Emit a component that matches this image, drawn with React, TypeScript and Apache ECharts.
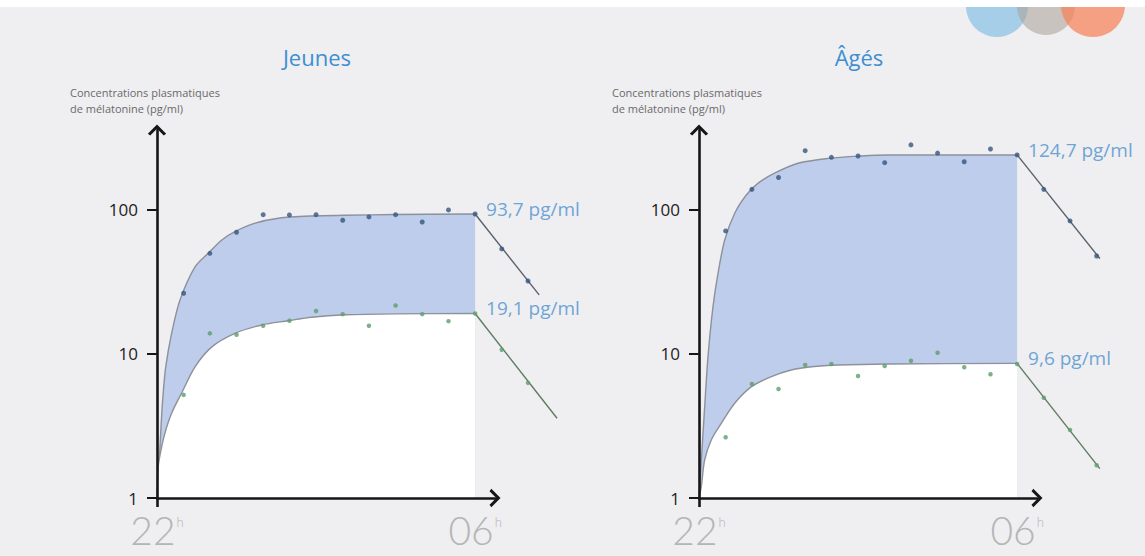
import React, { useEffect, useRef } from 'react';
import * as echarts from 'echarts';

// ---------- texts ----------
const panelTitles = ['Jeunes', 'Âgés'];
const yAxisNameLines = ['Concentrations plasmatiques', 'de mélatonine (pg/ml)'];
const xTickValues = [0, 8];
const xTickLabels = ['22', '06'];
const xTickSuffix = 'h';
const yTickValues = [1, 10, 100];
const jeunesLabels = ['93,7 pg/ml', '19,1 pg/ml'];
const agesLabels = ['124,7 pg/ml', '9,6 pg/ml'];

// ---------- data (hours after 22h, pg/ml) ----------
const pointHours = [0.67, 1.33, 2, 2.67, 3.33, 4, 4.67, 5.33, 6, 6.67, 7.33, 8, 8.67, 9.33, 10];

const jeunesHighPoints = [26.4, 50, 70, 92.7, 92.3, 92.7, 84.8, 89.4, 92.7, 82.5, 100, 93.7, 53.6, 32.1];
const jeunesLowPoints = [5.2, 13.9, 13.6, 15.7, 17.0, 19.9, 18.9, 15.7, 21.7, 18.9, 16.9, 19.1, 10.7, 6.3];
const agesHighPoints = [71.5, 139, 168, 258, 232, 237, 213, 283, 248, 216, 265, 241, 139, 83.9, 47.9];
const agesLowPoints = [2.64, 6.19, 5.71, 8.39, 8.52, 7.03, 8.25, 8.98, 10.2, 8.08, 7.23, 8.52, 4.97, 2.97, 1.69];

const jeunesHighFitHours = [0, 0.05, 0.093, 0.143, 0.219, 0.37, 0.579, 0.96, 1.29, 1.63, 1.96, 2.47, 3.05, 3.89, 4.73, 6, 8];
const jeunesHighFit = [1, 1.67, 2.83, 4.8, 8.1, 14, 23.7, 40.4, 50.1, 61.9, 70.7, 80.9, 87.6, 90.8, 91.8, 93, 93.7];
const jeunesLowFitHours = [0, 0.03, 0.1, 0.2, 0.37, 0.62, 0.96, 1.38, 1.96, 2.63, 3.3, 3.89, 4.73, 6, 8];
const jeunesLowFit = [1, 1.65, 2.15, 2.83, 3.89, 5.36, 8.17, 11.2, 13.9, 15.9, 17.0, 18.0, 18.7, 19.0, 19.1];

const agesHighFitHours = [0, 0.143, 0.226, 0.352, 0.478, 0.647, 0.898, 1.19, 1.48, 1.9, 2.49, 3.25, 4.08, 4.75, 8];
const agesHighFit = [1, 4.31, 9.58, 21.3, 36.3, 61.9, 94.9, 127, 153, 180, 211, 228, 237, 241, 241];
const agesLowFitHours = [0, 0.058, 0.143, 0.309, 0.561, 0.898, 1.32, 1.82, 2.32, 2.83, 3.5, 4.75, 8];
const agesLowFit = [1, 1.2, 1.84, 2.53, 3.3, 4.55, 5.93, 6.96, 7.74, 8.16, 8.39, 8.52, 8.6];

const jeunesHighDecayHours = [8, 9.61];
const jeunesHighDecay = [93.7, 25.7];
const jeunesLowDecayHours = [8, 10.06];
const jeunesLowDecay = [19.1, 3.58];
const agesHighDecayHours = [8, 10.08];
const agesHighDecay = [241, 46];
const agesLowDecayHours = [8, 10.08];
const agesLowDecay = [8.6, 1.6];

// ---------- styles ----------
const BG = '#efeef1';
const AXIS = '#161616';
const FILL = '#bdcdeb';
const FIT = '#8c919a';
const BLUE_TXT = '#4a91cf';
const FONT = '"Open Sans", "Noto Sans", sans-serif';
const chevron = 'path://M0,10 L10,0 L20,10 L17.4,12 L10,4.6 L2.6,12 Z';

const zip = (xs: number[], ys: number[]) => ys.map((y, i) => [xs[i], y]);

type Panel = {
  highFitH: number[]; highFit: number[]; lowFitH: number[]; lowFit: number[];
  highDecH: number[]; highDec: number[]; lowDecH: number[]; lowDec: number[];
  highPts: number[]; lowPts: number[]; labels: string[];
};

const panels: Panel[] = [
  {
    highFitH: jeunesHighFitHours, highFit: jeunesHighFit, lowFitH: jeunesLowFitHours, lowFit: jeunesLowFit,
    highDecH: jeunesHighDecayHours, highDec: jeunesHighDecay, lowDecH: jeunesLowDecayHours, lowDec: jeunesLowDecay,
    highPts: jeunesHighPoints, lowPts: jeunesLowPoints, labels: jeunesLabels,
  },
  {
    highFitH: agesHighFitHours, highFit: agesHighFit, lowFitH: agesLowFitHours, lowFit: agesLowFit,
    highDecH: agesHighDecayHours, highDec: agesHighDecay, lowDecH: agesLowDecayHours, lowDec: agesLowDecay,
    highPts: agesHighPoints, lowPts: agesLowPoints, labels: agesLabels,
  },
];

const gridLefts = [157, 699];

function decaySeries(i: number, hs: number[], vs: number[], color: string) {
  return {
    type: 'custom', xAxisIndex: i, yAxisIndex: i, silent: true, clip: false, z: 3,
    data: [[hs[0], vs[0], hs[1], vs[1]]],
    renderItem: (_p: any, api: any) => {
      const a = api.coord([api.value(0), api.value(1)]);
      const b = api.coord([api.value(2), api.value(3)]);
      return {
        type: 'line',
        shape: { x1: a[0], y1: a[1], x2: b[0], y2: b[1] },
        style: { stroke: color, lineWidth: 1.4 },
      };
    },
  };
}

function buildSeries(p: Panel, i: number) {
  const common = { xAxisIndex: i, yAxisIndex: i, silent: true };
  return [
    {
      ...common, type: 'line', data: zip(p.highFitH, p.highFit), smooth: 0.3,
      showSymbol: false, lineStyle: { color: FIT, width: 1.4 },
      areaStyle: { color: FILL, opacity: 1, origin: 'start' }, z: 1,
    },
    {
      ...common, type: 'line', data: zip(p.lowFitH, p.lowFit), smooth: 0.3,
      showSymbol: false, lineStyle: { color: FIT, width: 1.4 },
      areaStyle: { color: '#ffffff', opacity: 1, origin: 'start' }, z: 2,
    },
    decaySeries(i, p.highDecH, p.highDec, '#58626d'),
    decaySeries(i, p.lowDecH, p.lowDec, '#5f7c62'),
    {
      ...common, type: 'scatter', data: zip(pointHours, p.highPts), symbolSize: 5, clip: false,
      itemStyle: { color: '#35567f' }, z: 4,
    },
    {
      ...common, type: 'scatter', data: zip(pointHours, p.lowPts), symbolSize: 4.5, clip: false,
      itemStyle: { color: '#5c9d6c' }, z: 4,
    },
    {
      ...common, type: 'scatter', clip: false, symbolSize: 0, z: 5,
      data: [
        [8, p.highFit[p.highFit.length - 1], p.labels[0]],
        [8, p.lowFit[p.lowFit.length - 1], p.labels[1]],
      ],
      label: {
        show: true, position: 'right', distance: 11, offset: [0, -5],
        formatter: (d: any) => d.data[2], color: BLUE_TXT, fontSize: 19, fontFamily: FONT,
      },
    },
  ];
}

export default function App() {
  const ref = useRef<HTMLDivElement>(null);
  useEffect(() => {
    if (!ref.current) return;
    const chart = echarts.init(ref.current, undefined, { renderer: 'svg' });
    const grid = gridLefts.map((l) => ({ left: l, top: 130, width: 338, height: 368 }));
    const xAxis = gridLefts.map((_, i) => ({
      type: 'value', gridIndex: i, min: 0, max: 8.5, z: 6,
      axisLine: {
        show: true, symbol: ['none', chevron], symbolSize: [19, 11],
        lineStyle: { color: AXIS, width: 2.6 },
      },
      axisTick: { show: true, customValues: [0], length: 9, lineStyle: { color: AXIS, width: 2.6 } },
      splitLine: { show: false },
      axisLabel: {
        show: true, customValues: xTickValues, margin: 13,
        formatter: (v: number) => `{n|${xTickLabels[xTickValues.indexOf(v)] ?? ''}}{h|${xTickSuffix}}`,
        rich: {
          n: { fontSize: 39, color: '#b5b5b5', fontFamily: 'Lato, "Open Sans", sans-serif', fontWeight: 300, lineHeight: 38 },
          h: { fontSize: 13, color: '#b5b5b5', fontFamily: 'Lato, "Open Sans", sans-serif', fontWeight: 300, lineHeight: 16, verticalAlign: 'top', padding: [4, 0, 0, 1] },
        },
      },
    }));
    const yAxis = gridLefts.map((_, i) => ({
      type: 'log', logBase: 10, gridIndex: i, min: 1, max: 359, z: 6,
      axisLine: {
        show: true, symbol: ['none', chevron], symbolSize: [19, 11],
        lineStyle: { color: AXIS, width: 2.6 },
      },
      axisTick: { show: true, customValues: yTickValues, length: 10, lineStyle: { color: AXIS, width: 2 } },
      splitLine: { show: false },
      axisLabel: { show: true, customValues: yTickValues, margin: 19, fontSize: 17, color: '#222', fontFamily: FONT },
    }));

    const graphic: any[] = [
      { type: 'circle', shape: { cx: 997, cy: 6, r: 31 }, style: { fill: 'rgba(138,194,228,0.72)' }, silent: true, z: 1 },
      { type: 'circle', shape: { cx: 1046, cy: 6, r: 29 }, style: { fill: 'rgba(170,160,150,0.55)' }, silent: true, z: 2 },
      { type: 'circle', shape: { cx: 1093, cy: 5, r: 32 }, style: { fill: 'rgba(246,130,88,0.72)' }, silent: true, z: 3 },
      { type: 'rect', shape: { x: 0, y: 0, width: 1145, height: 7 }, style: { fill: '#ffffff' }, silent: true, z: 10 },
    ];
    panelTitles.forEach((t, i) => {
      graphic.push({
        type: 'text', x: gridLefts[i] + 160, y: 57, silent: true,
        style: { text: t, fill: '#3d8fd2', fontSize: 22, fontFamily: FONT, align: 'center', verticalAlign: 'middle' },
      });
      graphic.push({
        type: 'text', x: gridLefts[i] - 87, y: 84, silent: true,
        style: { text: yAxisNameLines.join('\n'), fill: '#6a6a6a', fontSize: 11, lineHeight: 16, fontFamily: FONT, align: 'left', verticalAlign: 'top' },
      });
    });

    chart.setOption({
      animation: false,
      backgroundColor: BG,
      grid,
      xAxis,
      yAxis,
      series: panels.flatMap((p, i) => buildSeries(p, i)),
      graphic,
    });
    return () => chart.dispose();
  }, []);
  return <div ref={ref} style={{ position: 'absolute', left: 0, top: 0, width: 1145, height: 556 }} />;
}
